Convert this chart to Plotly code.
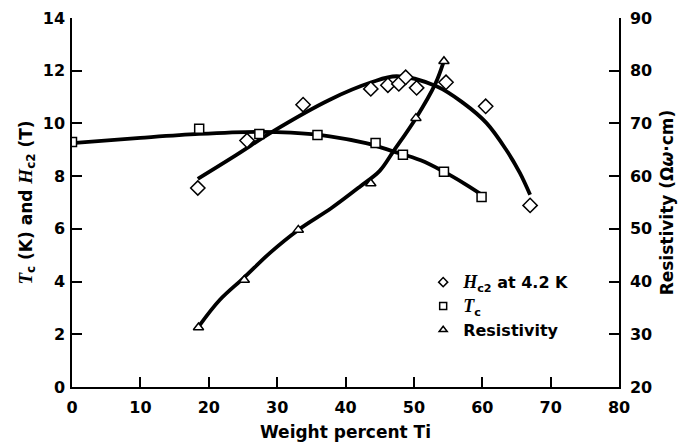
import plotly.graph_objects as go

# ---- measured points ----
hc2_x = [18.4, 25.6, 33.8, 43.7, 46.2, 47.8, 48.8, 50.4, 54.7, 60.5, 67.0]
hc2_y = [7.55, 9.35, 10.71, 11.31, 11.45, 11.50, 11.75, 11.35, 11.56, 10.65, 6.89]
tc_x = [0, 18.6, 27.4, 35.9, 44.4, 48.4, 54.4, 59.9]
tc_y = [9.30, 9.80, 9.60, 9.56, 9.26, 8.81, 8.17, 7.21]
rho_x = [18.5, 25.2, 33.1, 43.7, 50.3, 54.4]
rho_y = [31.3, 40.3, 49.8, 58.6, 71.0, 81.8]

# ---- fitted curves ----
hc2_fit_x = [18.4, 24.0, 29.4, 37.7, 43.7, 47.5, 53.3, 57.2, 60.6, 63.5, 65.5, 67.0]
hc2_fit_y = [7.90, 8.80, 9.70, 10.90, 11.55, 11.79, 11.41, 10.78, 10.02, 9.00, 8.12, 7.29]
tc_fit_x = [0, 10, 18.6, 27.0, 32.0, 37.7, 43.0, 47.0, 51.0, 54.3, 57.5, 59.9]
tc_fit_y = [9.25, 9.45, 9.60, 9.68, 9.65, 9.51, 9.25, 8.94, 8.60, 8.18, 7.70, 7.30]
rho_fit_x = [18.6, 21.6, 25.2, 29.0, 33.1, 38.0, 42.1, 45.0, 47.0, 50.3, 53.1, 54.3]
rho_fit_y = [31.6, 36.5, 40.8, 45.5, 49.8, 54.0, 58.0, 61.0, 64.7, 71.0, 77.4, 81.5]

SERIF = "Liberation Serif"
def ital(s, size=None):
    st = "font-family:%s" % SERIF
    if size:
        st += ";font-size:%dpx" % size
    return '<span style="%s"><i>%s</i></span>' % (st, s)

legend_names = [ital("H", 18) + '<sub>c2</sub> at 4.2 K',
                ital("T", 18) + '<sub>c</sub>',
                'Resistivity']
left_title = (ital("T", 19) + '<sub>c</sub> (K) and ' + ital("H", 19) + '<sub>c2</sub> (T)')

FONT = "DejaVu Sans"
fnt = dict(family=FONT, size=16, color="black", weight="bold")
fnt_title = dict(family=FONT, size=17, color="black", weight="bold")
fig = go.Figure()
line = dict(color="black", width=3.8)
fig.add_trace(go.Scatter(x=hc2_fit_x, y=hc2_fit_y, mode="lines", line=dict(shape="spline", **line), showlegend=False))
fig.add_trace(go.Scatter(x=tc_fit_x, y=tc_fit_y, mode="lines", line=dict(shape="spline", **line), showlegend=False))
fig.add_trace(go.Scatter(x=rho_fit_x, y=rho_fit_y, mode="lines", yaxis="y2", line=dict(shape="spline", **line), showlegend=False))

mk = dict(color="white", line=dict(color="black", width=1.5))
fig.add_trace(go.Scatter(x=hc2_x, y=hc2_y, mode="markers", showlegend=False,
                         marker=dict(symbol="diamond", size=11, **mk)))
fig.add_trace(go.Scatter(x=tc_x, y=tc_y, mode="markers", showlegend=False,
                         marker=dict(symbol="square", size=9, **mk)))
fig.add_trace(go.Scatter(x=rho_x, y=rho_y, mode="markers", yaxis="y2", showlegend=False,
                         marker=dict(symbol="triangle-up", size=9, **mk)))

# legend entries
for name, sym in zip(legend_names, ["diamond", "square", "triangle-up"]):
    fig.add_trace(go.Scatter(x=[None], y=[None], mode="markers", name=name,
                             marker=dict(symbol=sym, size=7, **mk)))

axis_common = dict(showgrid=False, zeroline=False, showline=True, linecolor="black", linewidth=1.5,
                   ticks="inside", ticklen=10, tickwidth=1.5, tickcolor="black",
                   tickfont=fnt, automargin=False)
fig.update_layout(
    width=683, height=445, margin=dict(l=72, r=64, t=18, b=58),
    plot_bgcolor="white", paper_bgcolor="white",
    xaxis=dict(range=[0, 80], dtick=10, ticklabelstandoff=5,
               title=dict(text="Weight percent Ti", font=fnt_title, standoff=10), **axis_common),
    yaxis=dict(range=[0, 14], dtick=2, ticklabelstandoff=2,
               title=dict(text=left_title, font=fnt_title, standoff=6), **axis_common),
    yaxis2=dict(range=[20, 90], dtick=10, overlaying="y", side="right", ticklabelstandoff=6,
                title=dict(text="Resistivity (Ω<i>ω</i>·cm)", font=fnt_title, standoff=10), **axis_common),
    legend=dict(x=0.642, y=0.33, xanchor="left", yanchor="top", bgcolor="rgba(0,0,0,0)",
                font=fnt, itemwidth=30, tracegroupgap=0),
)
fig.write_html("out.html")
